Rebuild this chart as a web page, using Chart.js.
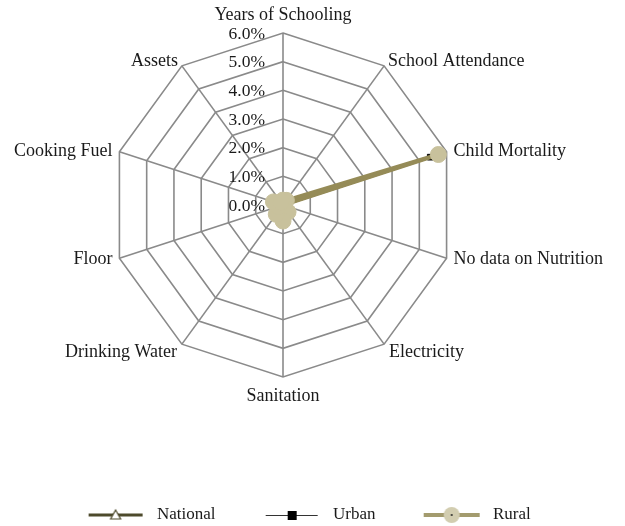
<!DOCTYPE html>
<html>
<head>
<meta charset="utf-8">
<script src="https://cdn.jsdelivr.net/npm/chart.js@4/dist/chart.umd.min.js"></script>
<style>
  html, body { margin: 0; padding: 0; background: #ffffff; }
  #wrap { width: 625px; height: 526px; }
</style>
</head>
<body>
<div id="wrap"><canvas id="chart" width="625" height="526"></canvas></div>
<script>
// indicators around the radar, clockwise from the top
const indicators = [
  'Years of Schooling', 'School Attendance', 'Child Mortality', 'No data on Nutrition',
  'Electricity', 'Sanitation', 'Drinking Water', 'Floor', 'Cooking Fuel', 'Assets'
];
// contribution in percent
const national = [0.15, 0.15, 5.6, 0, 0.2, 0.5, 0.35, 0.15, 0.3, 0.1];
const urban    = [0.05, 0.05, 5.4, 0, 0.05, 0.2, 0.1, 0.05, 0.1, 0.05];
const rural    = [0.17, 0.2, 5.7, 0, 0.3, 0.56, 0.4, 0.17, 0.35, 0.12];
const tickValues = [0, 1, 2, 3, 4, 5, 6];

const FONT = "'Liberation Serif', 'Times New Roman', serif";
const TEXT = '#1a1a1a';
const GRID = '#8a8a8a';

Chart.defaults.font.family = FONT;
Chart.defaults.color = TEXT;

/* legend icons: line with the marker in the middle, drawn on small canvases */
function legendIcon(draw) {
  const c = document.createElement('canvas');
  c.width = 90; c.height = 20;
  const g = c.getContext('2d');
  draw(g, 49, 10);
  return c;
}

const iconNational = legendIcon((g, cx, cy) => {
  g.strokeStyle = '#4d4a2c'; g.lineWidth = 3;
  g.beginPath(); g.moveTo(cx - 27, cy); g.lineTo(cx + 27, cy); g.stroke();
  g.fillStyle = '#ffffff'; g.strokeStyle = '#4d4a2c'; g.lineWidth = 1.2;
  g.beginPath(); g.moveTo(cx, cy - 5); g.lineTo(cx + 5, cy + 4); g.lineTo(cx - 5, cy + 4); g.closePath();
  g.fill(); g.stroke();
});

const iconUrban = legendIcon((g, cx, cy) => {
  g.strokeStyle = '#333333'; g.lineWidth = 1;
  g.beginPath(); g.moveTo(cx - 26, cy + 0.5); g.lineTo(cx + 26, cy + 0.5); g.stroke();
  g.fillStyle = '#000000';
  g.fillRect(cx - 4, cy - 4, 9, 9);
});

const iconRural = legendIcon((g, cx, cy) => {
  g.strokeStyle = '#a39b6e'; g.lineWidth = 4;
  g.beginPath(); g.moveTo(cx - 28, cy); g.lineTo(cx + 28, cy); g.stroke();
  g.fillStyle = '#d2cdb0';
  g.beginPath(); g.arc(cx, cy, 8, 0, Math.PI * 2); g.fill();
  g.fillStyle = '#222222';
  g.beginPath(); g.arc(cx, cy, 1, 0, Math.PI * 2); g.fill();
});

const legendIcons = [iconNational, iconUrban, iconRural];

// percent labels left of the top spoke, and the indicator names
// placed around the outer ring the way the original sets them
const radarTextPlugin = {
  id: 'radarText',
  afterDatasetsDraw(chart) {
    const scale = chart.scales.r;
    const ctx = chart.ctx;
    ctx.save();
    ctx.fillStyle = TEXT;
    ctx.textBaseline = 'alphabetic';

    ctx.font = '17.5px ' + FONT;
    ctx.textAlign = 'right';
    for (const v of tickValues) {
      const p = scale.getPointPositionForValue(0, v);
      ctx.fillText(v.toFixed(1) + '%', p.x - 18, p.y + 5.5);
    }

    // offsets by distance from the top spoke (0..5 steps)
    const dyByStep = [-13, 0, 4.5, 6, 12.5, 24];
    const dxByStep = [0, 4, 7, 7, 5, 0];
    ctx.font = '18px ' + FONT;
    const n = indicators.length;
    indicators.forEach((label, i) => {
      const p = scale.getPointPosition(i, scale.drawingArea);
      const k = Math.min(i, n - i);
      let x = p.x;
      if (k === 0 || k === n / 2) ctx.textAlign = 'center';
      else if (i < n / 2) { ctx.textAlign = 'left'; x += dxByStep[k]; }
      else { ctx.textAlign = 'right'; x -= dxByStep[k]; }
      ctx.fillText(label, x, p.y + dyByStep[k]);
    });
    ctx.restore();
  }
};

new Chart(document.getElementById('chart'), {
  type: 'radar',
  data: {
    labels: indicators,
    datasets: [
      {
        label: 'National', data: national, order: 2,
        borderColor: '#4d4a2c', borderWidth: 3, fill: false,
        pointStyle: 'triangle', pointRadius: 5,
        pointBackgroundColor: '#ffffff', pointBorderColor: '#4d4a2c', pointBorderWidth: 1.2
      },
      {
        label: 'Urban', data: urban, order: 1,
        borderColor: '#000000', borderWidth: 1, fill: false,
        pointStyle: 'rect', pointRadius: 4,
        pointBackgroundColor: '#000000', pointBorderColor: '#000000', pointBorderWidth: 1
      },
      {
        label: 'Rural', data: rural, order: 0,
        borderColor: '#958b57', borderWidth: 4, fill: false,
        pointStyle: 'circle', pointRadius: 8,
        pointBackgroundColor: '#c8c19c', pointBorderColor: '#c8c19c', pointBorderWidth: 1
      }
    ]
  },
  options: {
    responsive: false,
    animation: false,
    layout: { padding: { left: 0, right: 59, top: 33, bottom: -7.5 } },
    elements: { line: { tension: 0 } },
    scales: {
      r: {
        min: 0, max: 6,
        ticks: { stepSize: 1, display: false },
        grid: { color: GRID, lineWidth: 1.6 },
        angleLines: { color: GRID, lineWidth: 1.6 },
        pointLabels: { display: false }
      }
    },
    plugins: {
      tooltip: { enabled: false },
      legend: {
        position: 'bottom',
        align: 'end',
        title: { display: true, text: ' ', font: { size: 10 }, padding: { top: 41, bottom: 41.3 } },
        labels: {
          usePointStyle: true,
          pointStyleWidth: 73.8,
          padding: 35.2,
          font: { size: 17, family: FONT },
          color: TEXT,
          generateLabels(chart) {
            return chart.data.datasets.map((ds, i) => ({
              text: ds.label,
              datasetIndex: i,
              pointStyle: legendIcons[i],
              fillStyle: 'transparent',
              strokeStyle: 'transparent',
              lineWidth: 0,
              hidden: false
            }));
          }
        }
      }
    }
  },
  plugins: [radarTextPlugin]
});
</script>
</body>
</html>
